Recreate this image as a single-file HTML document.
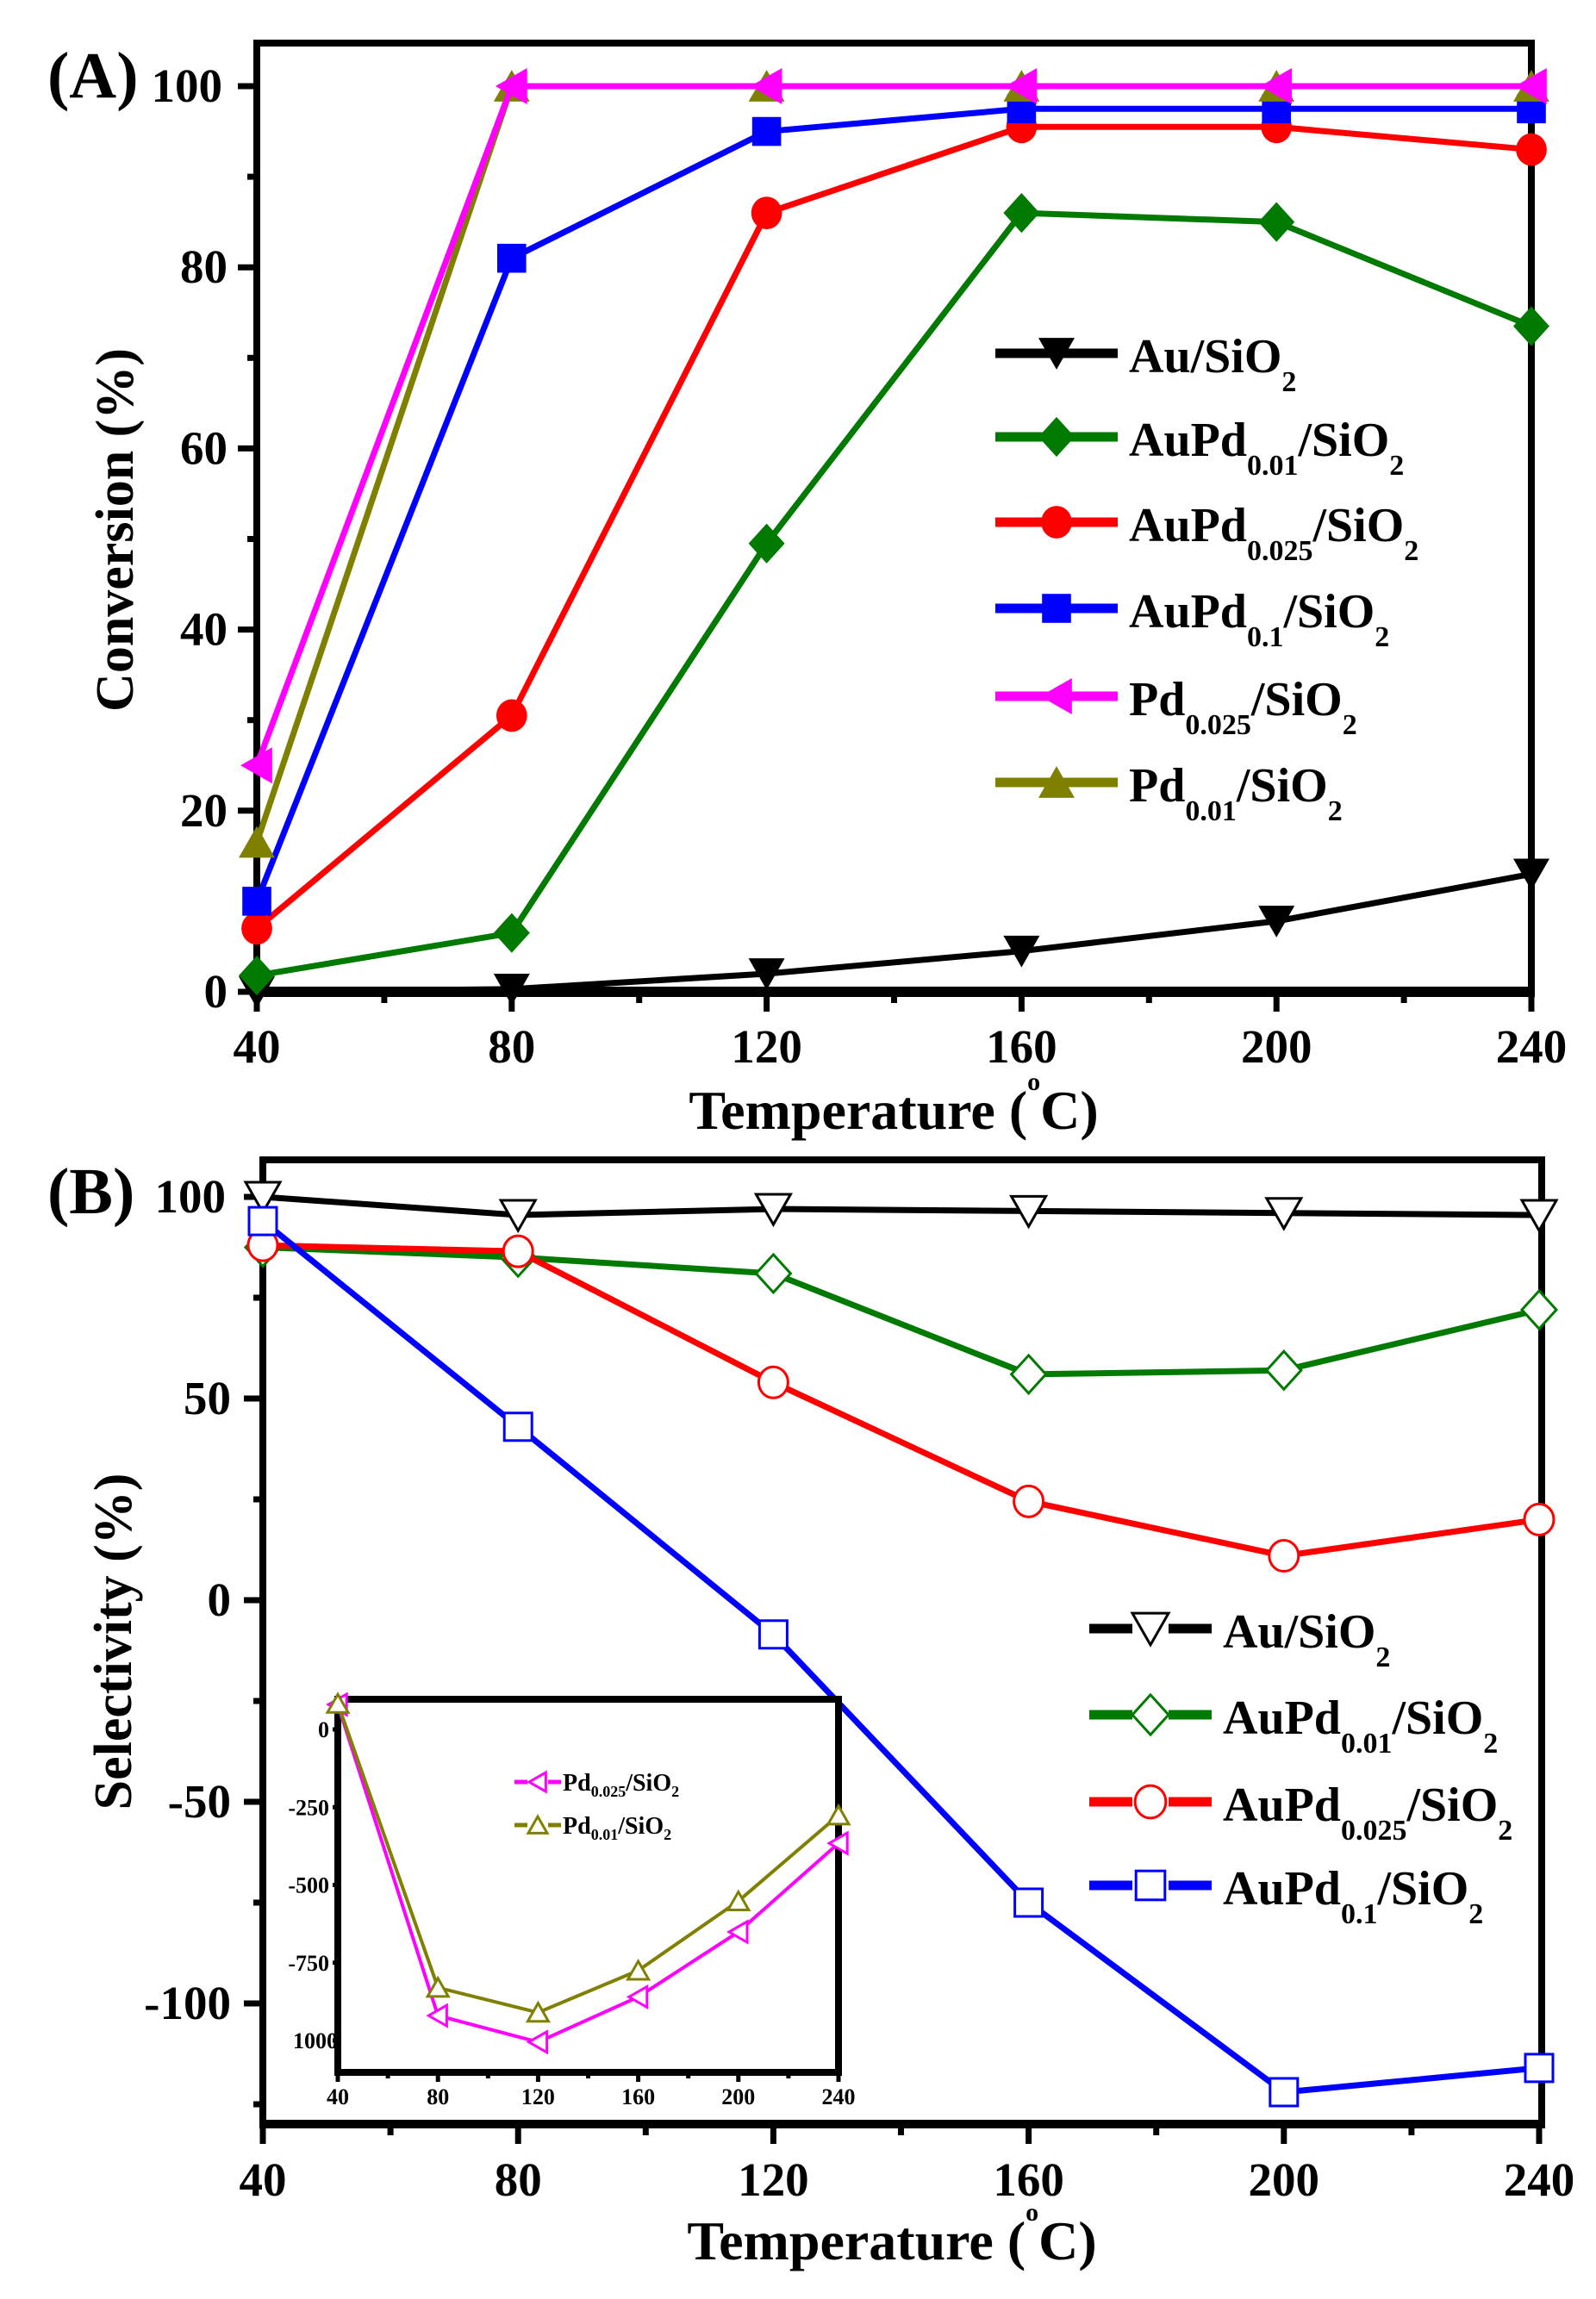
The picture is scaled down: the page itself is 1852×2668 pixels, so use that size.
<!DOCTYPE html>
<html><head><meta charset="utf-8"><style>
html,body{margin:0;padding:0;background:#fff}
svg{display:block}
text{font-family:"Liberation Serif",serif;font-weight:bold}
</style></head><body>
<svg id="s" width="1852" height="2668" xmlns="http://www.w3.org/2000/svg"></svg>
<script>
const S=document.getElementById('s');let h='';
function mk(t,x,y,sz,col,fill){
 const r=sz/2;let f=fill?col:'#fff';let sw=fill?0:3;
 let st=`fill="${f}" stroke="${col}" stroke-width="${sw}"`;
 if(t=='dn')return `<polygon points="${x-r},${y-r*0.85} ${x+r},${y-r*0.85} ${x},${y+r*0.9}" ${st}/>`;
 if(t=='up')return `<polygon points="${x-r},${y+r*0.85} ${x+r},${y+r*0.85} ${x},${y-r*0.9}" ${st}/>`;
 if(t=='lt')return `<polygon points="${x+r*0.85},${y-r} ${x+r*0.85},${y+r} ${x-r*0.9},${y}" ${st}/>`;
 if(t=='di')return `<polygon points="${x},${y-r*1.1} ${x+r},${y} ${x},${y+r*1.1} ${x-r},${y}" ${st}/>`;
 if(t=='sq')return `<rect x="${x-r*0.8}" y="${y-r*0.8}" width="${r*1.6}" height="${r*1.6}" ${st}/>`;
 if(t=='ci')return `<ellipse cx="${x}" cy="${y}" rx="${r*0.85}" ry="${r*0.9}" ${st}/>`;
}
function series(X,Y,xs,ys,col,t,sz,fill,lw){
 let p=xs.map((v,i)=>X(v)+','+Y(ys[i])).join(' ');
 h+=`<polyline points="${p}" fill="none" stroke="${col}" stroke-width="${lw}" stroke-linejoin="round"/>`;
 xs.forEach((v,i)=>h+=mk(t,X(v),Y(ys[i]),sz,col,fill));
}
function leg(x,y,col,t,fill,name,sub){
 h+=`<line x1="${x}" y1="${y}" x2="${x+142}" y2="${y}" stroke="${col}" stroke-width="11"/>`;
 if(!fill)h+=`<rect x="${x+50}" y="${y-22}" width="42" height="44" fill="#fff"/>`;
 h+=mk(t,x+71,y,42,col,fill);
 h+=`<text x="${x+155}" y="${y+22}" font-size="56">${name}${sub?`<tspan font-size="34" dy="22">${sub}</tspan><tspan dy="-22">`:'<tspan>'}/SiO</tspan><tspan font-size="34" dy="22">2</tspan></text>`;
}
const xs=[40,80,120,160,200,240];
// Panel A
let XA=v=>298+(v-40)*(1777-298)/200, YA=v=>1151-(v)*(1151-100)/100;
h+=`<rect x="298" y="50" width="1479" height="1101" fill="none" stroke="#000" stroke-width="8"/>`;
h+=`<line x1="294" y1="1151" x2="1781" y2="1151" stroke="#000" stroke-width="12"/>`;
for(let v=40;v<=240;v+=20){let M=v%40==0;h+=`<line x1="${XA(v)}" y1="1151" x2="${XA(v)}" y2="${M?1174:1164}" stroke="#000" stroke-width="7"/>`;if(M)h+=`<text x="${XA(v)}" y="1233" font-size="55" text-anchor="middle" font-weight="normal">${v}</text>`;}
for(let v=0;v<=100;v+=10){let M=v%20==0;h+=`<line x1="${M?276:287}" y1="${YA(v)}" x2="298" y2="${YA(v)}" stroke="#000" stroke-width="7"/>`;if(M)h+=`<text x="${v==100?258:264}" y="${YA(v)+18}" font-size="55" text-anchor="end" font-weight="normal">${v}</text>`;}
h+=`<text x="55" y="113" font-size="76">(A)</text>`;
h+=`<text transform="translate(154,615) rotate(-90)" font-size="62" text-anchor="middle">Conversion (%)</text>`;
h+=`<text x="1037" y="1310" font-size="64" text-anchor="middle">Temperature (<tspan font-size="30" dy="-45">o</tspan><tspan dy="45">C)</tspan></text>`;
series(XA,YA,xs,[0,0.3,2,4.5,7.8,13],'#000','dn',42,1,7);
series(XA,YA,xs,[1.8,6.5,49.5,86,85,73.5],'#007a00','di',42,1,7);
series(XA,YA,xs,[7,30.5,86,95.5,95.5,93],'#ff0000','ci',42,1,7);
series(XA,YA,xs,[10,81,95,97.5,97.5,97.5],'#0000ff','sq',42,1,7);
series(XA,YA,xs,[16.5,100,100,100,100,100],'#808000','up',42,1,7);
series(XA,YA,xs,[25,100,100,100,100,100],'#ff00ff','lt',42,1,7);
leg(1155,410,'#000','dn',1,'Au','');
leg(1155,507,'#007a00','di',1,'AuPd','0.01');
leg(1155,606,'#ff0000','ci',1,'AuPd','0.025');
leg(1155,706,'#0000ff','sq',1,'AuPd','0.1');
leg(1155,808,'#ff00ff','lt',1,'Pd','0.025');
leg(1155,908,'#808000','up',1,'Pd','0.01');
// Panel B
let XB=v=>305+(v-40)*(1786-305)/200, YB=v=>1857-v*(1857-1389)/100;
h+=`<rect x="305" y="1346" width="1484" height="1119" fill="none" stroke="#000" stroke-width="8"/>`;
h+=`<line x1="301" y1="2465" x2="1793" y2="2465" stroke="#000" stroke-width="10"/>`;
for(let v=40;v<=240;v+=20){let M=v%40==0;h+=`<line x1="${XB(v)}" y1="2465" x2="${XB(v)}" y2="${M?2488:2478}" stroke="#000" stroke-width="7"/>`;if(M)h+=`<text x="${XB(v)}" y="2548" font-size="55" text-anchor="middle" font-weight="normal">${v}</text>`;}
for(let v=-125;v<=100;v+=25){let M=v%50==0;h+=`<line x1="${M?283:294}" y1="${YB(v)}" x2="305" y2="${YB(v)}" stroke="#000" stroke-width="7"/>`;if(M)h+=`<text x="${v==100?262:268}" y="${YB(v)+18}" font-size="55" text-anchor="end" font-weight="normal">${v}</text>`;}
h+=`<text x="55" y="1408" font-size="76">(B)</text>`;
h+=`<text transform="translate(152,1905) rotate(-90)" font-size="62" text-anchor="middle">Selectivity (%)</text>`;
h+=`<text x="1035" y="2622" font-size="64" text-anchor="middle">Temperature (<tspan font-size="30" dy="-45">o</tspan><tspan dy="45">C)</tspan></text>`;
series(XB,YB,xs,[100,95.5,97,96.5,96,95.5],'#000','dn',40,0,7);
series(XB,YB,xs,[87.5,85,81,56,57,72],'#007a00','di',40,0,7);
series(XB,YB,xs,[88,86.5,54,24.5,11,20],'#ff0000','ci',40,0,7);
series(XB,YB,xs,[94,43,-8.5,-75,-122,-116],'#0000ff','sq',40,0,7);
// inset
let XI=v=>392+(v-40)*(973-392)/200, YI=v=>2007+(-v)*0.361;
h+=`<rect x="392" y="1972" width="581" height="433" fill="#fff" stroke="#000" stroke-width="8"/>`;
for(let v=40;v<=240;v+=20){let M=v%40==0;h+=`<line x1="${XI(v)}" y1="2405" x2="${XI(v)}" y2="${M?2416:2412}" stroke="#000" stroke-width="5"/>`;if(M)h+=`<text x="${XI(v)}" y="2442" font-size="26" text-anchor="middle">${v}</text>`;}
for(let v=-1000;v<=0;v+=250){h+=`<line x1="386" y1="${YI(v)}" x2="392" y2="${YI(v)}" stroke="#000" stroke-width="5"/>`;h+=`<text x="${v==-1000?392:382}" y="${YI(v)+9}" font-size="26" text-anchor="end">${v==-1000?'1000':v}</text>`;}
series(XI,YI,xs,[80,-920,-1005,-860,-651,-366],'#ff00ff','lt',24,0,4);
series(XI,YI,xs,[83,-830,-910,-775,-552,-276],'#808000','up',24,0,4);
function ileg(y,col,t,sub){h+=`<line x1="597" y1="${y}" x2="651" y2="${y}" stroke="${col}" stroke-width="5"/><rect x="612" y="${y-11}" width="24" height="22" fill="#fff"/>`;h+=mk(t,624,y,22,col,0);h+=`<text x="653" y="${y+10}" font-size="28">Pd<tspan font-size="18" dy="7">${sub}</tspan><tspan dy="-7">/SiO</tspan><tspan font-size="18" dy="7">2</tspan></text>`;}
ileg(2068,'#ff00ff','lt','0.025');
ileg(2118,'#808000','up','0.01');
leg(1264,1890,'#000','dn',0,'Au','');
leg(1264,1990,'#007a00','di',0,'AuPd','0.01');
leg(1264,2091,'#ff0000','ci',0,'AuPd','0.025');
leg(1264,2188,'#0000ff','sq',0,'AuPd','0.1');
S.innerHTML=h;
</script>
</body></html>
